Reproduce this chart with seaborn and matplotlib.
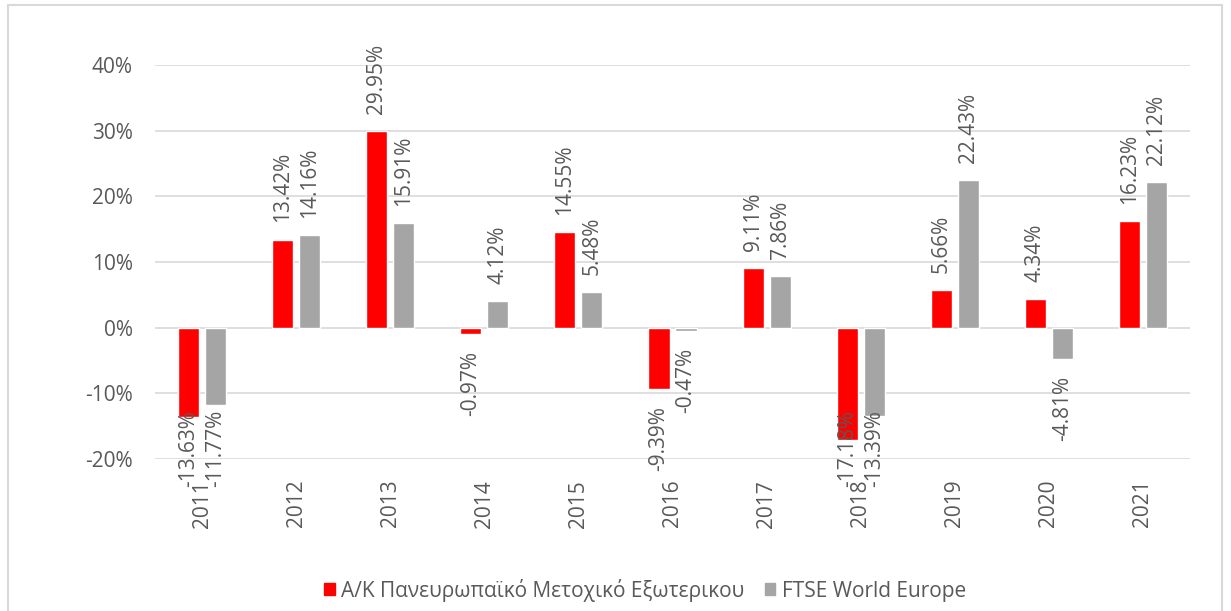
import pandas as pd
import matplotlib.pyplot as plt
import seaborn as sns
from matplotlib.patches import Rectangle
from matplotlib.ticker import FuncFormatter

# Chart data (annual returns, %)
years = ['2011', '2012', '2013', '2014', '2015', '2016', '2017', '2018', '2019', '2020', '2021']
fund_name = 'Α/Κ Πανευρωπαϊκό Μετοχικό Εξωτερικου'
index_name = 'FTSE World Europe'
fund_returns = [-13.63, 13.42, 29.95, -0.97, 14.55, -9.39, 9.11, -17.18, 5.66, 4.34, 16.23]
index_returns = [-11.77, 14.16, 15.91, 4.12, 5.48, -0.47, 7.86, -13.39, 22.43, -4.81, 22.12]
y_ticks = [-20, -10, 0, 10, 20, 30, 40]

df = pd.DataFrame({'year': years, fund_name: fund_returns, index_name: index_returns})
long_df = df.melt(id_vars='year', var_name='series', value_name='ret')

sns.set_style('white')
plt.rcParams['font.family'] = ['Open Sans', 'DejaVu Sans']
text_color = '#595959'
grid_color = '#d9d9d9'
fsize = 15

fig = plt.figure(figsize=(12.31, 6.11), dpi=100)
ax = fig.add_axes([155 / 1231, 1 - 459 / 611, 1035 / 1231, 394 / 611])

palette = {fund_name: '#ff0000', index_name: '#a5a5a5'}
sns.barplot(data=long_df, x='year', y='ret', hue='series', palette=palette,
            hue_order=[fund_name, index_name], width=0.574, gap=0.22,
            saturation=1, ax=ax, zorder=3, legend=False)

ax.set_ylim(-20, 40)
ax.set_xlim(-0.5, len(years) - 0.5)
ax.set_yticks(y_ticks)
ax.yaxis.set_major_formatter(FuncFormatter(lambda v, _: f'{v:.0f}%'))
ax.grid(axis='y', color=grid_color, linewidth=1.2, zorder=0)
ax.grid(axis='x', visible=False)
for s in ax.spines.values():
    s.set_visible(False)
ax.set_xlabel('')
ax.set_ylabel('')
ax.tick_params(axis='y', length=0, pad=16, labelsize=fsize, labelcolor=text_color)
ax.tick_params(axis='x', length=0, pad=15, labelsize=fsize, labelcolor=text_color,
               labelrotation=90)

# value labels, rotated like the original (long negative ones pushed up to fit)
for cont in ax.containers:
    for bar in cont:
        v = bar.get_height()
        xc = bar.get_x() + bar.get_width() / 2
        if v >= 0:
            ax.text(xc, v + 2.6, f'{v:.2f}%', rotation=90, ha='center', va='bottom',
                    fontsize=fsize, color=text_color, zorder=5)
        else:
            ax.text(xc, max(v - 2.6, -12.5), f'{v:.2f}%', rotation=90, ha='center',
                    va='top', fontsize=fsize, color=text_color, zorder=5, clip_on=False)

handles = [Rectangle((0, 0), 1, 1, color=palette[fund_name]),
           Rectangle((0, 0), 1, 1, color=palette[index_name])]
fig.legend(handles, [fund_name, index_name], loc='center', bbox_to_anchor=(645 / 1231, 1 - 590 / 611),
           ncol=2, frameon=False, fontsize=fsize, labelcolor=text_color,
           handlelength=0.5, handleheight=0.5, handletextpad=0.3, columnspacing=1.0)

# outer chart border
fig.patches.append(Rectangle((8 / 1231, -0.01), 1214 / 1231, 1 - 5 / 611 + 0.01,
                             transform=fig.transFigure, fill=False,
                             edgecolor=grid_color, linewidth=1.5))

fig.savefig('out.png', dpi=100, facecolor='white')
